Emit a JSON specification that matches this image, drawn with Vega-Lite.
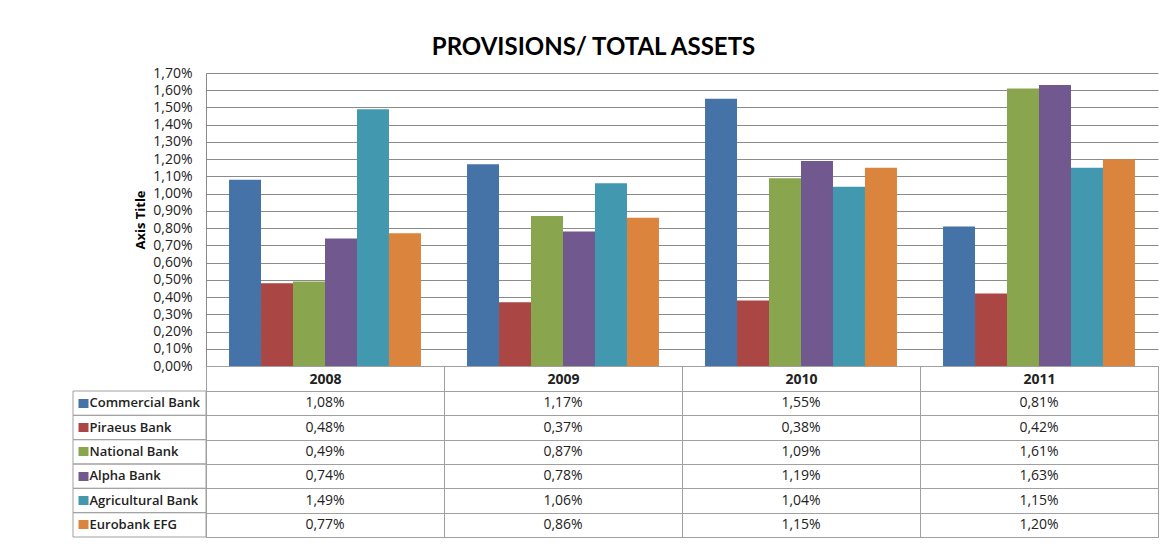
{
  "$schema": "https://vega.github.io/schema/vega-lite/v6.json",
  "background": "white",
  "padding": {"left": 72, "top": 36, "right": 9, "bottom": 7},
  "title": {"text": "PROVISIONS/ TOTAL ASSETS", "font": "Lato", "fontSize": 24, "fontWeight": "bold", "color": "#000000", "anchor": "middle", "offset": 6, "dx": -22},
  "data": {"values": [
    {"bank": "Commercial Bank", "year": "2008", "value": 0.0108},
    {"bank": "Commercial Bank", "year": "2009", "value": 0.0117},
    {"bank": "Commercial Bank", "year": "2010", "value": 0.0155},
    {"bank": "Commercial Bank", "year": "2011", "value": 0.0081},
    {"bank": "Piraeus Bank", "year": "2008", "value": 0.0048},
    {"bank": "Piraeus Bank", "year": "2009", "value": 0.0037},
    {"bank": "Piraeus Bank", "year": "2010", "value": 0.0038},
    {"bank": "Piraeus Bank", "year": "2011", "value": 0.0042},
    {"bank": "National Bank", "year": "2008", "value": 0.0049},
    {"bank": "National Bank", "year": "2009", "value": 0.0087},
    {"bank": "National Bank", "year": "2010", "value": 0.0109},
    {"bank": "National Bank", "year": "2011", "value": 0.0161},
    {"bank": "Alpha Bank", "year": "2008", "value": 0.0074},
    {"bank": "Alpha Bank", "year": "2009", "value": 0.0078},
    {"bank": "Alpha Bank", "year": "2010", "value": 0.0119},
    {"bank": "Alpha Bank", "year": "2011", "value": 0.0163},
    {"bank": "Agricultural Bank", "year": "2008", "value": 0.0149},
    {"bank": "Agricultural Bank", "year": "2009", "value": 0.0106},
    {"bank": "Agricultural Bank", "year": "2010", "value": 0.0104},
    {"bank": "Agricultural Bank", "year": "2011", "value": 0.0115},
    {"bank": "Eurobank EFG", "year": "2008", "value": 0.0077},
    {"bank": "Eurobank EFG", "year": "2009", "value": 0.0086},
    {"bank": "Eurobank EFG", "year": "2010", "value": 0.0115},
    {"bank": "Eurobank EFG", "year": "2011", "value": 0.0120}
  ]},
  "columns": 2,
  "spacing": {"row": 25, "column": 0},
  "bounds": "flush",
  "concat": [
    {
      "width": 133,
      "height": 293,
      "mark": {"type": "text", "text": ""},
      "encoding": {}
    },
    {
      "width": 952,
      "height": 293,
      "mark": {"type": "bar"},
      "encoding": {
        "x": {
          "field": "year", "type": "nominal",
          "scale": {"paddingInner": 0, "paddingOuter": 0},
          "axis": {
            "title": null, "orient": "bottom", "labelAngle": 0, "grid": false,
            "tickBand": "extent", "tickSize": 25, "tickColor": "#a0a0a0",
            "domainColor": "#a0a0a0",
            "labelFont": "Open Sans", "labelFontWeight": "bold", "labelFontSize": 14,
            "labelColor": "#222222", "labelBaseline": "middle", "labelPadding": -12
          }
        },
        "xOffset": {
          "field": "bank", "type": "nominal",
          "sort": ["Commercial Bank", "Piraeus Bank", "National Bank", "Alpha Bank", "Agricultural Bank", "Eurobank EFG"],
          "scale": {"paddingInner": 0, "paddingOuter": 0.72}
        },
        "y": {
          "field": "value", "type": "quantitative",
          "scale": {"domain": [0, 0.017], "nice": false},
          "axis": {
            "title": "Axis Title", "titleFont": "Open Sans", "titleFontSize": 13, "titleFontWeight": "bold",
            "titleColor": "#000000", "titlePadding": 5,
            "values": [0, 0.001, 0.002, 0.003, 0.004, 0.005, 0.006, 0.007, 0.008, 0.009, 0.01, 0.011, 0.012, 0.013, 0.014, 0.015, 0.016, 0.017],
            "format": ".2%", "grid": true, "gridColor": "#8a8a8a", "domainColor": "#8a8a8a",
            "ticks": false, "tickSize": 0, "labelPadding": 14,
            "labelFont": "Open Sans", "labelFontSize": 14, "labelColor": "#222222"
          }
        },
        "color": {
          "field": "bank", "type": "nominal",
          "scale": {
            "domain": ["Commercial Bank", "Piraeus Bank", "National Bank", "Alpha Bank", "Agricultural Bank", "Eurobank EFG"],
            "range": ["#4572A7", "#AA4643", "#89A54E", "#71588F", "#4198AF", "#DB843D"]
          },
          "legend": null
        }
      }
    },
    {
      "width": 133,
      "height": 146,
      "transform": [{"aggregate": [{"op": "count", "as": "n"}], "groupby": ["bank"]}],
      "mark": {"type": "rect", "fill": "transparent", "stroke": "#a0a0a0", "strokeWidth": 1},
      "encoding": {
        "y": {
          "field": "bank", "type": "nominal",
          "sort": ["Commercial Bank", "Piraeus Bank", "National Bank", "Alpha Bank", "Agricultural Bank", "Eurobank EFG"],
          "scale": {"paddingInner": 0, "paddingOuter": 0},
          "axis": {
            "title": null, "orient": "left", "domain": false, "grid": false,
            "offset": -5, "tickSize": -10, "tickWidth": 9, "bandPosition": 0.5,
            "tickColor": {
              "condition": [
                {"test": "datum.value === 'Commercial Bank'", "value": "#4572A7"},
                {"test": "datum.value === 'Piraeus Bank'", "value": "#AA4643"},
                {"test": "datum.value === 'National Bank'", "value": "#89A54E"},
                {"test": "datum.value === 'Alpha Bank'", "value": "#71588F"},
                {"test": "datum.value === 'Agricultural Bank'", "value": "#4198AF"}
              ],
              "value": "#DB843D"
            },
            "labelAlign": "left", "labelPadding": -1,
            "labelFont": "Open Sans", "labelFontWeight": 600, "labelFontSize": 13,
            "labelColor": "#222222", "zindex": 1
          }
        }
      }
    },
    {
      "width": 952,
      "height": 146,
      "view": {"stroke": "#a0a0a0"},
      "mark": {"type": "text", "font": "Open Sans", "fontSize": 14, "color": "#222222"},
      "encoding": {
        "x": {
          "field": "year", "type": "nominal",
          "scale": {"paddingInner": 0, "paddingOuter": 0},
          "axis": {"title": null, "labels": false, "ticks": false, "domain": false, "grid": true, "tickBand": "extent", "gridColor": "#a0a0a0"}
        },
        "y": {
          "field": "bank", "type": "nominal",
          "sort": ["Commercial Bank", "Piraeus Bank", "National Bank", "Alpha Bank", "Agricultural Bank", "Eurobank EFG"],
          "scale": {"paddingInner": 0, "paddingOuter": 0},
          "axis": {"title": null, "labels": false, "ticks": false, "domain": false, "grid": true, "tickBand": "extent", "gridColor": "#a0a0a0"}
        },
        "text": {"field": "value", "type": "quantitative", "format": ".2%"}
      }
    }
  ],
  "config": {
    "view": {"stroke": null},
    "locale": {"number": {"decimal": ",", "thousands": ".", "grouping": [3], "currency": ["", " €"]}},
    "axis": {"labelFont": "Open Sans", "titleFont": "Open Sans"},
    "text": {"font": "Open Sans"}
  }
}
